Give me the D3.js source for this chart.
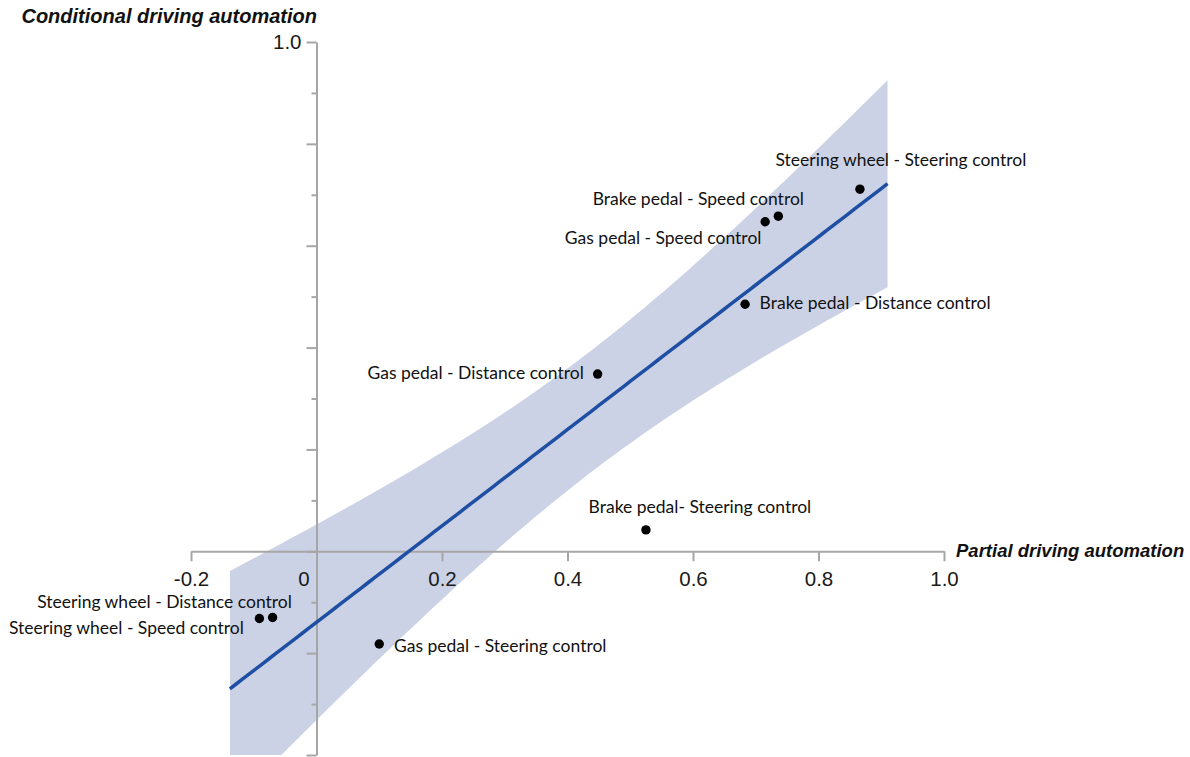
<!DOCTYPE html>
<html>
<head>
<meta charset="utf-8">
<script src="https://cdn.jsdelivr.net/npm/d3@7"></script>
<style>
  html, body { margin: 0; padding: 0; background: #ffffff; }
  svg { display: block; }
</style>
</head>
<body>
<svg id="chart" width="1190" height="757"></svg>
<script>
// ---------------- data ----------------
const pairLabels = [
  "Steering wheel - Steering control",
  "Brake pedal - Speed control",
  "Gas pedal - Speed control",
  "Brake pedal - Distance control",
  "Gas pedal - Distance control",
  "Brake pedal- Steering control",
  "Gas pedal - Steering control",
  "Steering wheel - Distance control",
  "Steering wheel - Speed control"
];
const partialValues     = [0.866, 0.736, 0.715, 0.683, 0.448, 0.525, 0.100, -0.070, -0.091];
const conditionalValues = [0.711, 0.658, 0.647, 0.485, 0.348, 0.042, -0.182, -0.130, -0.132];

const xTickValues = [-0.2, 0, 0.2, 0.4, 0.6, 0.8, 1.0];
const xTickLabels = ["-0.2", "0", "0.2", "0.4", "0.6", "0.8", "1.0"];
const yMajorTickValues = [-0.4, -0.2, 0, 0.2, 0.4, 0.6, 0.8, 1.0];
const yMinorTickValues = [-0.3, -0.1, 0.1, 0.3, 0.5, 0.7, 0.9];
const yTickLabels = ["", "", "", "", "", "", "", "1.0"];
const fitExtent = [-0.138, 0.91];   // x-span over which the fit is drawn

const xTitle = "Partial driving automation";
const yTitle = "Conditional driving automation";

// ---------------- layout / style ----------------
const labelLayout = [ // dx (center), dy (baseline) in px relative to the point
  [41, -23], [-80, -11], [-102, 22], [130, 5], [-122, 5],
  [54, -17], [121, 8], [-108, -9], [-133, 15]
];
const axisColor = "#a6a6a6";
const bandColor = "#ccd2e5";
const lineColor = "#1e4fa3";
const labelFont = "Lato, 'Open Sans', sans-serif";
const axisFont = "'Liberation Sans', Arial, sans-serif";

const svg = d3.select("#chart");
const x = d3.scaleLinear().domain([-0.2, 1.0]).range([191, 944]);
const y = d3.scaleLinear().domain([-0.4, 1.0]).range([755, 42]);

// ---------------- regression (OLS) + 95% CI from the data ----------------
const n = partialValues.length;
const mx = d3.mean(partialValues), my = d3.mean(conditionalValues);
const sxx = d3.sum(partialValues, v => (v - mx) ** 2);
const sxy = d3.sum(partialValues, (v, i) => (v - mx) * (conditionalValues[i] - my));
const slope = sxy / sxx, intercept = my - slope * mx;
const sse = d3.sum(partialValues, (v, i) => (conditionalValues[i] - (intercept + slope * v)) ** 2);
const se = Math.sqrt(sse / (n - 2));
const tCrit = 2.365; // t(0.975, df = 7)
const fitXs = d3.range(0, 101).map(k => fitExtent[0] + (fitExtent[1] - fitExtent[0]) * k / 100);
const band = fitXs.map(v => {
  const yh = intercept + slope * v;
  const hw = tCrit * se * Math.sqrt(1 / n + (v - mx) ** 2 / sxx);
  return { x: v, lo: yh - hw, hi: yh + hw, fit: yh };
});

// clip to plot region
svg.append("defs").append("clipPath").attr("id", "plotClip")
  .append("rect")
  .attr("x", x(-0.2)).attr("y", y(1.0))
  .attr("width", x(1.0) - x(-0.2)).attr("height", y(-0.4) - y(1.0));

svg.append("path")
  .datum(band)
  .attr("clip-path", "url(#plotClip)")
  .attr("fill", bandColor)
  .attr("d", d3.area().x(d => x(d.x)).y0(d => y(d.lo)).y1(d => y(d.hi)));

// ---------------- axes ----------------
const xAxis = d3.axisBottom(x)
  .tickValues(xTickValues)
  .tickFormat((d, i) => xTickLabels[i])
  .tickSize(10).tickSizeOuter(0).tickPadding(10);
const gx = svg.append("g").attr("transform", `translate(0,${y(0)})`).call(xAxis);

const yAxisMajor = d3.axisLeft(y)
  .tickValues(yMajorTickValues)
  .tickFormat((d, i) => yTickLabels[i])
  .tickSize(10).tickSizeOuter(0).tickPadding(5);
const gy = svg.append("g").attr("transform", `translate(${x(0)},0)`).call(yAxisMajor);

const yAxisMinor = d3.axisLeft(y)
  .tickValues(yMinorTickValues)
  .tickFormat("")
  .tickSize(5).tickSizeOuter(0);
const gyMinor = svg.append("g").attr("transform", `translate(${x(0)},0)`).call(yAxisMinor);
gyMinor.select(".domain").remove();

[gx, gy, gyMinor].forEach(g => {
  g.selectAll(".domain").attr("stroke", axisColor).attr("stroke-width", 2);
  g.selectAll(".tick line").attr("stroke", axisColor).attr("stroke-width", 2);
  g.selectAll(".tick text")
    .attr("fill", "#1a1a1a")
    .style("font-family", axisFont)
    .style("font-size", "20.5px");
});
gx.selectAll(".tick").filter(d => d === 0).select("text").attr("dx", -13);
gx.selectAll(".tick").filter(d => d === 0).select("line").remove();

// ---------------- fitted line ----------------
svg.append("path")
  .datum(band)
  .attr("fill", "none")
  .attr("stroke", lineColor)
  .attr("stroke-width", 3.5)
  .attr("d", d3.line().x(d => x(d.x)).y(d => y(d.fit)));

// ---------------- points & labels ----------------
const pts = pairLabels.map((name, i) => ({ name, px: partialValues[i], cy: conditionalValues[i], lay: labelLayout[i] }));

svg.append("g").selectAll("circle").data(pts).join("circle")
  .attr("cx", d => x(d.px)).attr("cy", d => y(d.cy))
  .attr("r", 4.7).attr("fill", "#000");

svg.append("g").selectAll("text").data(pts).join("text")
  .attr("x", d => x(d.px) + d.lay[0])
  .attr("y", d => y(d.cy) + d.lay[1])
  .attr("text-anchor", "middle")
  .style("font-family", labelFont)
  .style("font-size", "17.5px")
  .attr("fill", "#111")
  .text(d => d.name);

// ---------------- axis titles ----------------
svg.append("text")
  .attr("x", 317).attr("y", 22.5)
  .attr("text-anchor", "end")
  .style("font-family", axisFont)
  .style("font-weight", "bold").style("font-style", "italic")
  .style("font-size", "20px")
  .attr("fill", "#111")
  .text(yTitle);

svg.append("text")
  .attr("x", 956).attr("y", 557)
  .attr("text-anchor", "start")
  .style("font-family", axisFont)
  .style("font-weight", "bold").style("font-style", "italic")
  .style("font-size", "18.5px")
  .attr("fill", "#111")
  .text(xTitle);
</script>
</body>
</html>
